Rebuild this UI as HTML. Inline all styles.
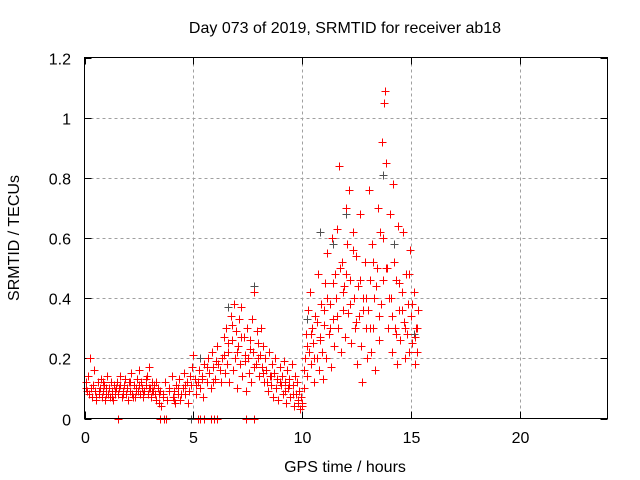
<!DOCTYPE html>
<html><head><meta charset="utf-8"><style>
body{margin:0;background:#fff}
svg{display:block;font-family:"Liberation Sans",sans-serif;font-size:16px}
</style></head><body>
<svg width="640" height="480" xmlns="http://www.w3.org/2000/svg">
<text x="345" y="33" text-anchor="middle">Day 073 of 2019, SRMTID for receiver ab18</text>
<text x="345" y="472" text-anchor="middle">GPS time / hours</text>
<text x="0" y="0" transform="translate(19,238) rotate(-90)" text-anchor="middle">SRMTID / TECUs</text>
<g id="grid"></g>
<g id="axes"></g>
<g id="pts-gray" stroke="#505050" stroke-width="1"></g>
<g id="pts" stroke="#ff0000" stroke-width="1"></g>
<rect x="84.5" y="57.5" width="523" height="361" fill="none" stroke="#000"/>
</svg>
<script>
const xTicks=[0,5,10,15,20];
const yTicks=[0,0.2,0.4,0.6,0.8,1,1.2];
const yTickLabels=["0","0.2","0.4","0.6","0.8","1","1.2"];
const times=[0.05,0.1,0.15,0.2,0.25,0.3,0.35,0.4,0.45,0.5,0.55,0.6,0.65,0.7,0.75,0.8,0.85,0.9,0.95,1.0,1.05,1.1,1.15,1.2,1.25,1.3,1.35,1.4,1.45,
1.5,1.55,1.6,1.65,1.7,1.75,1.8,1.85,1.9,1.95,2.0,2.05,2.1,2.15,2.2,2.25,2.3,2.35,2.4,2.45,2.5,2.55,2.6,2.65,2.7,2.75,2.8,2.85,2.9,2.95,3.0,3.05,3.1,3.15,3.2,3.25,3.3,3.35,3.4,3.45,
3.5,3.6,3.7,3.8,3.9,4.0,4.05,4.1,4.15,4.2,4.3,4.35,4.4,4.5,4.55,4.6,4.7,4.75,4.8,4.85,4.9,4.95,5.0,5.05,
5.1,5.2,5.25,5.3,5.4,5.45,5.5,5.6,5.65,5.7,5.8,5.85,5.9,6.0,6.05,6.1,6.2,6.25,6.3,6.4,6.45,
6.5,6.55,6.6,6.65,6.7,6.75,6.8,6.85,6.9,6.95,7.0,7.05,7.1,7.15,7.2,7.25,7.3,7.35,7.4,7.45,
7.5,7.55,7.6,7.65,7.7,7.75,7.8,7.85,7.9,7.95,8.0,8.05,8.1,8.15,8.2,
8.25,8.3,8.35,8.4,8.45,8.5,8.55,8.6,8.65,8.7,8.75,8.8,8.85,8.9,8.95,9.0,9.05,9.1,9.15,9.2,9.25,9.3,9.35,9.4,9.45,9.5,9.55,9.6,9.65,9.7,9.75,9.8,9.85,9.9,9.95,10.0,10.05,
10.1,10.15,10.2,10.25,10.3,10.35,10.4,10.45,10.5,10.55,10.6,10.65,10.7,10.75,10.8,10.85,10.9,10.95,11.0,
11.05,11.1,11.15,11.2,11.25,11.3,11.35,11.4,11.45,11.5,11.55,11.6,11.65,11.7,11.75,11.8,11.85,11.9,11.95,12.0,
12.05,12.1,12.15,12.2,12.25,12.3,12.35,12.4,12.45,12.5,12.55,12.6,12.65,12.7,12.75,12.8,12.85,12.9,12.95,
13.0,13.05,13.1,13.15,13.2,13.25,13.3,13.35,13.4,13.45,13.5,13.55,13.6,13.65,13.7,13.75,13.8,13.85,13.9,13.95,14.0,
14.05,14.1,14.15,14.2,14.25,14.3,14.35,14.4,14.45,14.5,14.55,14.6,14.65,14.7,14.75,14.8,14.85,14.9,14.95,15.0,15.05,15.1,15.15,15.2,15.25,15.3,
1.55,3.45,3.65,3.75,5.2,5.3,5.5,5.8,5.95,6.1,7.4,7.8,
0.07,0.22,0.37,0.52,0.68,0.83,0.98,1.12,1.28,1.42,1.62,1.78,1.93,2.08,2.22,2.38,2.52,2.68,2.82,2.98,3.12,3.28,3.42,3.62,3.88,4.12,4.28,4.42,4.62,4.78,
5.12,5.38,5.62,5.88,6.12,6.38,6.58,6.78,6.98,7.18,7.38,7.58,7.78,7.98,8.18,8.38,8.58,8.78,8.98,9.18,9.38,9.58,9.78,9.98,
10.08,10.22,10.38,10.52,10.68,10.82,10.98,11.12,11.28,11.42,11.58,11.72,11.88,12.02,12.18,12.32,12.48,12.62,12.78,12.92,
13.08,13.22,13.38,13.52,13.68,13.82,13.98,14.12,14.28,14.42,14.58,14.72,14.88,15.02,15.18,15.28];
const values=[.12,.09,.14,.08,.2,.1,.07,.11,.16,.09,.06,.12,.08,.1,.13,.07,.09,.11,.06,.1,.14,.08,.07,.12,.09,.06,.11,.08,.1,
.12,.08,.1,.14,.07,.09,.11,.13,.08,.1,.06,.12,.09,.15,.08,.11,.07,.1,.13,.09,.16,.08,.12,.1,.07,.09,.11,.14,.08,.17,.1,.07,.12,.09,.11,.08,.06,.1,.05,.09,
.04,.08,.12,.06,.1,.14,.07,.09,.05,.11,.08,.13,.06,.1,.15,.08,.12,.05,.09,.14,.11,.17,.21,.13,
.08,.12,.16,.1,.14,.07,.18,.12,.2,.15,.1,.22,.17,.13,.19,.24,.16,.12,.2,.27,.15,
.3,.18,.22,.12,.34,.26,.16,.38,.2,.29,.1,.24,.33,.18,.37,.14,.27,.21,.09,.3,
.2,.15,.26,.12,.33,.22,.42,.18,.29,.25,.14,.21,.3,.17,.24,
.12,.2,.16,.09,.22,.14,.11,.18,.07,.15,.2,.1,.13,.06,.17,.11,.14,.08,.19,.12,.05,.16,.1,.13,.07,.18,.11,.04,.14,.08,.12,.05,.09,.03,.07,.04,.1,
.2,.28,.14,.36,.22,.42,.18,.3,.25,.12,.34,.2,.48,.16,.27,.38,.22,.13,.31,
.45,.2,.55,.28,.38,.17,.6,.33,.24,.48,.4,.63,.3,.84,.22,.52,.36,.44,.27,.7,
.58,.35,.76,.46,.25,.62,.4,.3,.54,.18,.44,.34,.68,.24,.12,.4,.52,.3,.2,
.36,.76,.46,.22,.58,.3,.4,.16,.5,.7,.26,.62,.38,.92,.46,1.05,1.09,.85,.5,.3,.68,
.4,.22,.78,.52,.3,.46,.18,.64,.36,.26,.42,.62,.32,.2,.48,.28,.38,.22,.56,.34,.25,.42,.18,.3,.22,.36,
0,0,0,0,0,0,0,0,0,0,0,0,
.1,.08,.11,.07,.09,.12,.08,.1,.07,.09,.11,.08,.1,.12,.07,.09,.11,.08,.13,.1,.09,.12,.08,.07,.09,.06,.1,.08,.11,.09,
.11,.13,.17,.12,.18,.21,.25,.31,.22,.27,.19,.23,.17,.2,.15,.12,.14,.1,.12,.09,.11,.08,.06,.05,
.16,.24,.28,.2,.32,.26,.36,.4,.3,.45,.34,.5,.42,.48,.38,.56,.32,.46,.36,.4,
.3,.52,.44,.34,.6,.5,.4,.34,.28,.45,.36,.3,.48,.38,.27,.3];
const grayTimes=[4.9,5.3,6.6,7.8,10.2,10.8,11.4,12.0,13.7,14.2,15.1];
const grayValues=[0,0.2,0.37,0.44,0.33,0.62,0.58,0.68,0.81,0.58,0.28];
const X0=84.5,X1=607.5,Y0=418.5,Y1=57.5;
const sx=t=>X0+(t/24)*(X1-X0);
const sy=v=>Y0-(v/1.2)*(Y0-Y1);
const NS="http://www.w3.org/2000/svg";
const grid=document.getElementById('grid'),axes=document.getElementById('axes');
function mk(tag,attrs,parent){const e=document.createElementNS(NS,tag);for(const k in attrs)e.setAttribute(k,attrs[k]);parent.appendChild(e);return e;}
xTicks.forEach(t=>{
  const x=Math.round(sx(t))+0.5;
  if(t>0){const g=mk('line',{x1:x,x2:x,y1:Y1,y2:Y0,stroke:'#a0a0a0','stroke-dasharray':'3,3'},grid);
  
  }
  mk('line',{x1:x,x2:x,y1:Y0,y2:Y0-7,stroke:'#000'},axes);
  mk('line',{x1:x,x2:x,y1:Y1,y2:Y1+7,stroke:'#000'},axes);
  const tx=mk('text',{x:x,y:443,'text-anchor':'middle'},axes);tx.textContent=t;
  
  
});
yTicks.forEach((v,i)=>{
  const y=Math.round(sy(v))+0.5;
  if(v>0&&v<1.2){const g=mk('line',{x1:X0,x2:X1,y1:y,y2:y,stroke:'#a0a0a0','stroke-dasharray':'3,3'},grid);
  
  }
  mk('line',{x1:X0,x2:X0+7,y1:y,y2:y,stroke:'#000'},axes);
  mk('line',{x1:X1,x2:X1-7,y1:y,y2:y,stroke:'#000'},axes);
  const tx=mk('text',{x:71,y:y+6,'text-anchor':'end'},axes);tx.textContent=yTickLabels[i];
  
  
});
function plus(t,v,g){
  const x=Math.round(sx(t))+0.5,y=Math.round(sy(v))+0.5;
  const p=mk('path',{d:`M${x-4} ${y}H${x+4}M${x} ${y-4}V${y+4}`},g);
  
  
}
const gg=document.getElementById('pts-gray');
grayTimes.forEach((t,i)=>plus(t,grayValues[i],gg));
const pg=document.getElementById('pts');
times.forEach((t,i)=>plus(t,values[i],pg));
</script>
</body></html>
